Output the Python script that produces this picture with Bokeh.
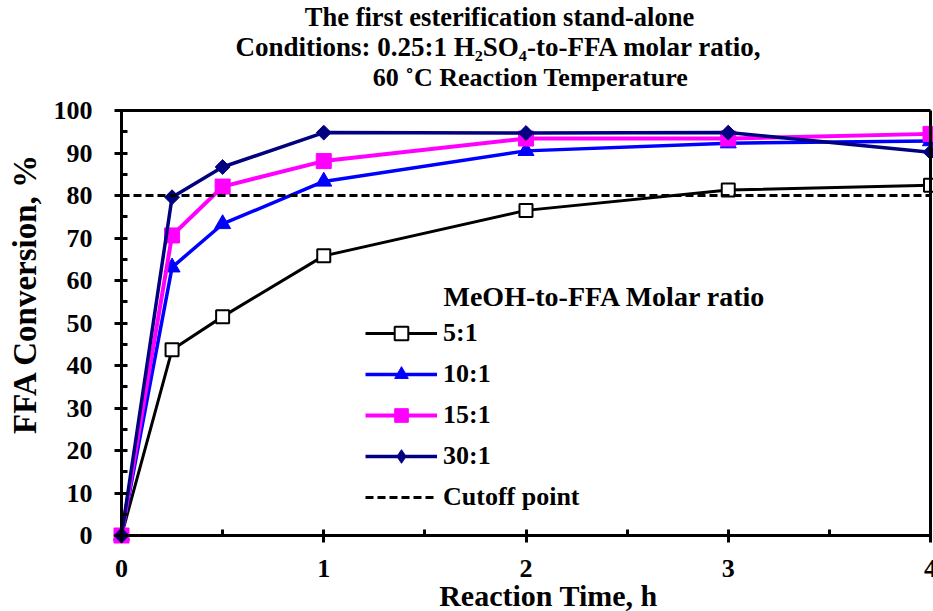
from math import pi
from bokeh.plotting import figure
from bokeh.models import Range1d, Label, Legend, LegendItem, LinearAxis, FixedTicker
from bokeh.core.properties import value
from bokeh.embed import file_html
from bokeh.resources import INLINE

# ---------------- data ----------------
time_h = [0, 0.25, 0.5, 1, 2, 3, 4]
conv_5 = [0, 43.7, 51.5, 65.8, 76.5, 81.3, 82.4]
conv_10 = [0, 63.1, 73.3, 83.3, 90.5, 92.3, 92.8]
conv_15 = [0, 70.6, 82.1, 88.1, 93.4, 93.4, 94.5]
conv_30 = [0, 79.6, 86.7, 94.8, 94.7, 94.8, 90.2]
cutoff_time = [0, 4]
cutoff_value = [80, 80]
x_ticks = [0, 1, 2, 3, 4]
y_ticks = [0, 10, 20, 30, 40, 50, 60, 70, 80, 90, 100]
series_labels = ["5:1", "10:1", "15:1", "30:1", "Cutoff point"]

FONT = "Liberation Serif"

# ---------------- layout (frame covers the whole canvas) ----------------
W, H = 933, 611
X_PX0, X_PX1 = 121.0, 930.0     # screen x of first / last x tick
Y_PX0, Y_PX1 = 535.0, 110.0     # screen y of first / last y tick
xs = (X_PX1 - X_PX0) / (x_ticks[-1] - x_ticks[0])
ys = (Y_PX0 - Y_PX1) / (y_ticks[-1] - y_ticks[0])


def dx(px):
    return x_ticks[0] + (px - X_PX0) / xs


def dy(py):
    return y_ticks[0] + (Y_PX0 - py) / ys


p = figure(width=W, height=H,
           x_range=Range1d(dx(0), dx(W)), y_range=Range1d(dy(H), dy(0)),
           output_backend="svg", toolbar_location=None,
           x_axis_location=None, y_axis_location=None,
           min_border=0, min_border_left=0, min_border_right=0,
           min_border_top=0, min_border_bottom=0)
p.title.visible = False
p.xgrid.visible = False
p.ygrid.visible = False
p.outline_line_color = None


def style_axis(ax):
    ax.axis_line_width = 3
    ax.axis_line_color = "black"
    ax.major_tick_line_width = 3
    ax.major_tick_line_color = "black"
    ax.major_tick_in = 6
    ax.major_tick_out = 7
    ax.minor_tick_line_width = 3
    ax.minor_tick_line_color = "black"
    ax.minor_tick_in = 6
    ax.minor_tick_out = 0
    ax.major_label_text_color = None
    ax.major_label_text_alpha = 0
    ax.major_label_standoff = 0


xa = LinearAxis(fixed_location=y_ticks[0], bounds=(x_ticks[0], x_ticks[-1]),
                ticker=FixedTicker(ticks=x_ticks, minor_ticks=[t + 0.5 for t in x_ticks[:-1]]))
style_axis(xa)
p.add_layout(xa, "below")

ya = LinearAxis(fixed_location=x_ticks[0], bounds=(y_ticks[0], y_ticks[-1]),
                ticker=FixedTicker(ticks=y_ticks, minor_ticks=[t + 5 for t in y_ticks[:-1]]))
style_axis(ya)
p.add_layout(ya, "left")

# top and right frame lines
top_ax = LinearAxis(fixed_location=y_ticks[-1], bounds=(x_ticks[0], x_ticks[-1]),
                    ticker=FixedTicker(ticks=[]), axis_line_width=3,
                    major_tick_line_color=None, minor_tick_line_color=None,
                    major_label_standoff=0, major_label_text_color=None)
p.add_layout(top_ax, "above")
right_ax = LinearAxis(fixed_location=x_ticks[-1], bounds=(y_ticks[0], y_ticks[-1]),
                      ticker=FixedTicker(ticks=[]), axis_line_width=3,
                      major_tick_line_color=None, minor_tick_line_color=None,
                      major_label_standoff=0, major_label_text_color=None)
p.add_layout(right_ax, "right")


def add_text(px, py, text, size, align="center", baseline="middle", angle=0.0, x=None, y=None):
    p.add_layout(Label(x=dx(px) if x is None else x, y=dy(py) if y is None else y,
                       text=text, text_font=FONT, text_font_size=size,
                       text_font_style="bold", text_align=align, text_baseline=baseline,
                       angle=angle, text_color="black"))


# tick labels
p.text(x=x_ticks, y=[dy(568)] * len(x_ticks), text=[str(t) for t in x_ticks],
       text_font=value(FONT), text_font_size="26px", text_font_style="bold",
       text_color="black", text_align="center", text_baseline="middle")
for t in y_ticks:
    add_text(92, 0, str(t), "26px", align="right", y=t)

# ---------------- series ----------------
l5 = p.line(time_h, conv_5, line_color="black", line_width=3)
m5 = p.scatter(time_h, conv_5, marker="square", size=13, fill_color="white",
               line_color="black", line_width=2)
l10 = p.line(time_h, conv_10, line_color="#0000FF", line_width=3.5)
m10 = p.scatter(time_h, conv_10, marker="triangle", size=16, fill_color="#0000FF",
                line_color="#0000FF")
l15 = p.line(time_h, conv_15, line_color="#FF00FF", line_width=4)
m15 = p.scatter(time_h, conv_15, marker="square", size=15, fill_color="#FF00FF",
                line_color="#FF00FF")
l30 = p.line(time_h, conv_30, line_color="#000080", line_width=3.5)
m30 = p.scatter(time_h, conv_30, marker="square", angle=pi / 4, size=10.5,
                fill_color="#000080", line_color="#000080")
# legend proxy for the diamond symbol (zero size on the plot)
m30_key = p.scatter(time_h[:1], conv_30[:1], marker="diamond", size=0,
                    fill_color="#000080", line_color="#000080")
lc = p.line(cutoff_time, cutoff_value, line_color="black", line_width=3, line_dash="8 4")

legend = Legend(items=[
    LegendItem(label=series_labels[0], renderers=[l5, m5]),
    LegendItem(label=series_labels[1], renderers=[l10, m10]),
    LegendItem(label=series_labels[2], renderers=[l15, m15]),
    LegendItem(label=series_labels[3], renderers=[l30, m30_key]),
    LegendItem(label=series_labels[4], renderers=[lc]),
], location=(365, 97), glyph_width=72, glyph_height=34, label_height=34,
    spacing=7, padding=0, margin=0, label_standoff=6,
    label_text_font=FONT, label_text_font_size="26px", label_text_font_style="bold",
    label_text_color="black", background_fill_alpha=0, border_line_alpha=0)
p.add_layout(legend)

# legend title
add_text(443, 296, "MeOH-to-FFA Molar ratio", "28px", align="left")
# chart title (three lines)
add_text(499, 16.5, "The first esterification stand-alone", "26.5px")
add_text(498.5, 46.5, "Conditions: 0.25:1 H\u2082SO\u2084-to-FFA molar ratio,", "27px")
add_text(530, 76.5, "60 \u02daC Reaction Temperature", "26px")
# axis titles
add_text(548, 595, "Reaction Time, h", "30px")
add_text(24, 293, "FFA Conversion, %", "33px", angle=pi / 2)

open("out.html", "w").write(file_html(p, INLINE))
